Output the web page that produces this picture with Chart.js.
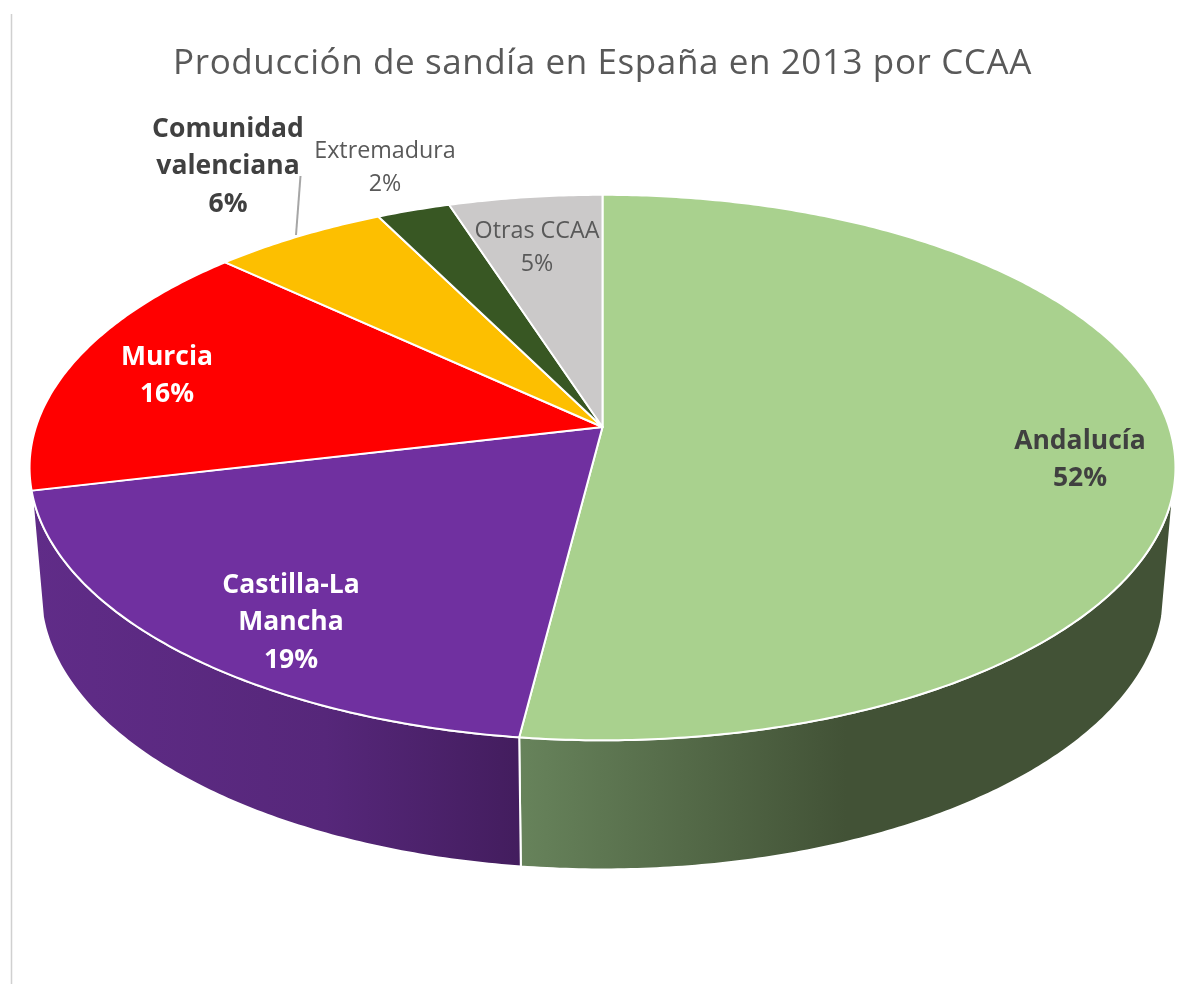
<!DOCTYPE html>
<html lang="es">
<head>
<meta charset="utf-8">
<title>Producción de sandía en España en 2013 por CCAA</title>
<script src="https://cdn.jsdelivr.net/npm/chart.js@4/dist/chart.umd.js"></script>
<style>
    html, body { margin: 0; padding: 0; background: #fff; }
    #sandiaChart { display: block; }
</style>
</head>
<body>
<canvas id="sandiaChart" width="1181" height="984"></canvas>
<script>
const categories = ['Andalucía', 'Castilla-La Mancha', 'Murcia', 'Comunidad valenciana', 'Extremadura', 'Otras CCAA'];
const shares = [52, 19.3, 15.6, 5.7, 2.4, 5];
const sliceColors = ['#A9D18E', '#7030A0', '#FF0000', '#FDBF00', '#385723', '#CBC9C9'];

// label lines, centre x and first line centre y, one entry per category
const labelLines = [['Andalucía'], ['Castilla-La', 'Mancha'], ['Murcia'], ['Comunidad', 'valenciana'], ['Extremadura'], ['Otras CCAA']];
const labelSpots = [[1080, 441], [291, 585], [167, 357], [228, 129], [385, 151], [537, 231]];
const labelColors = ['#404040', '#FFFFFF', '#FFFFFF', '#404040', '#595959', '#595959'];
const labelBold = [true, true, true, true, false, false];

// the tilted disc: top face and bottom rim, relative to the pie radius
const faceView = { kx: 1.793, ky: 0.844, persp: 0.1486, dy: 0 };
const rimView = { kx: 1.758, ky: 0.858, persp: 0.1486, dy: 124 };
const wallFrom = Math.PI * 0.0744;
const wallTo = Math.PI * 0.925;
const wallShades = {
    0: [[0, '#67835B'], [0.5, '#425236'], [1, '#425236']],
    1: [[0, '#602C88'], [0.6, '#56277A'], [1, '#431D5E']]
};

function project(arc, view, angle) {
    const u = Math.cos(angle);
    const v = Math.sin(angle);
    const w = 1 - view.persp * v;
    return {
        x: arc.x + arc.outerRadius * view.kx * u / w,
        y: arc.y + view.dy + arc.outerRadius * view.ky * v / w
    };
}

function angleSteps(from, to) {
    const steps = Math.max(2, Math.ceil((to - from) / 0.01));
    const list = [];
    for (let i = 0; i <= steps; i++) list.push(from + (to - from) * i / steps);
    return list;
}

function drawWall(ctx, arc, index) {
    const from = Math.max(arc.startAngle, wallFrom);
    const to = Math.min(arc.endAngle, wallTo);
    if (to <= from || !wallShades[index]) return;

    const angles = angleSteps(from, to);
    const upper = angles.map(a => project(arc, faceView, a));
    const lower = angles.map(a => project(arc, rimView, a)).reverse();
    const xs = upper.concat(lower).map(p => p.x);

    const fill = ctx.createLinearGradient(Math.min(...xs), 0, Math.max(...xs), 0);
    wallShades[index].forEach(([stop, color]) => fill.addColorStop(stop, color));

    ctx.beginPath();
    upper.concat(lower).forEach((p, i) => i ? ctx.lineTo(p.x, p.y) : ctx.moveTo(p.x, p.y));
    ctx.closePath();
    ctx.fillStyle = fill;
    ctx.fill();
    ctx.strokeStyle = '#FFFFFF';
    ctx.lineWidth = 2;
    ctx.stroke();
}

function drawFace(ctx, arc) {
    ctx.beginPath();
    ctx.moveTo(arc.x, arc.y);
    angleSteps(arc.startAngle, arc.endAngle).forEach(a => {
        const p = project(arc, faceView, a);
        ctx.lineTo(p.x, p.y);
    });
    ctx.closePath();
    ctx.fillStyle = arc.options.backgroundColor;
    ctx.fill();
    ctx.strokeStyle = arc.options.borderColor;
    ctx.lineWidth = arc.options.borderWidth;
    ctx.lineJoin = 'round';
    ctx.stroke();
}

const tiltedPie = {
    id: 'tiltedPie',
    beforeDraw(chart) {
        const ctx = chart.ctx;
        // frame edge left over from the spreadsheet object
        ctx.save();
        ctx.strokeStyle = '#D0D0D0';
        ctx.lineWidth = 1.5;
        ctx.beginPath();
        ctx.moveTo(11.5, 14);
        ctx.lineTo(11.5, 984);
        ctx.stroke();
        ctx.restore();
        ctx.letterSpacing = '0.6px';
    },
    beforeDatasetDraw(chart, args) {
        const ctx = chart.ctx;
        const arcs = args.meta.data;
        ctx.save();
        ctx.letterSpacing = '0px';
        arcs.forEach((arc, i) => drawWall(ctx, arc, i));
        arcs.forEach(arc => drawFace(ctx, arc));
        ctx.restore();
        return false;
    },
    afterDatasetsDraw(chart) {
        const ctx = chart.ctx;
        const total = shares.reduce((a, b) => a + b, 0);
        ctx.save();
        ctx.letterSpacing = '0px';

        // leader line for Comunidad valenciana
        ctx.strokeStyle = '#A6A6A6';
        ctx.lineWidth = 2;
        ctx.beginPath();
        ctx.moveTo(300.5, 176);
        ctx.lineTo(296, 235);
        ctx.stroke();

        ctx.textAlign = 'center';
        ctx.textBaseline = 'middle';
        categories.forEach((name, i) => {
            const lines = labelLines[i].concat(Math.round(shares[i] / total * 100) + '%');
            const [x, y] = labelSpots[i];
            const bold = labelBold[i];
            const step = bold ? 37.5 : 33.5;
            ctx.font = (bold ? 'bold 26.5px' : '23.3px') + ' "Open Sans", sans-serif';
            ctx.fillStyle = labelColors[i];
            lines.forEach((line, n) => ctx.fillText(line, x, y + n * step));
        });
        ctx.restore();
    }
};

const sandiaChart = new Chart(document.getElementById('sandiaChart').getContext('2d'), {
    type: 'pie',
    data: {
        labels: categories,
        datasets: [{
            data: shares,
            backgroundColor: sliceColors,
            borderColor: '#FFFFFF',
            borderWidth: 2
        }]
    },
    options: {
        responsive: false,
        animation: false,
        layout: { padding: { left: 24, right: 0, top: 0, bottom: 240 } },
        plugins: {
            legend: { display: false },
            tooltip: { enabled: false },
            title: {
                display: true,
                text: 'Producción de sandía en España en 2013 por CCAA',
                color: '#595959',
                font: { family: '"Open Sans", sans-serif', size: 35, weight: 'normal', lineHeight: 1.2 },
                padding: { top: 43, bottom: 25 }
            }
        }
    },
    plugins: [tiltedPie]
});
</script>
</body>
</html>
